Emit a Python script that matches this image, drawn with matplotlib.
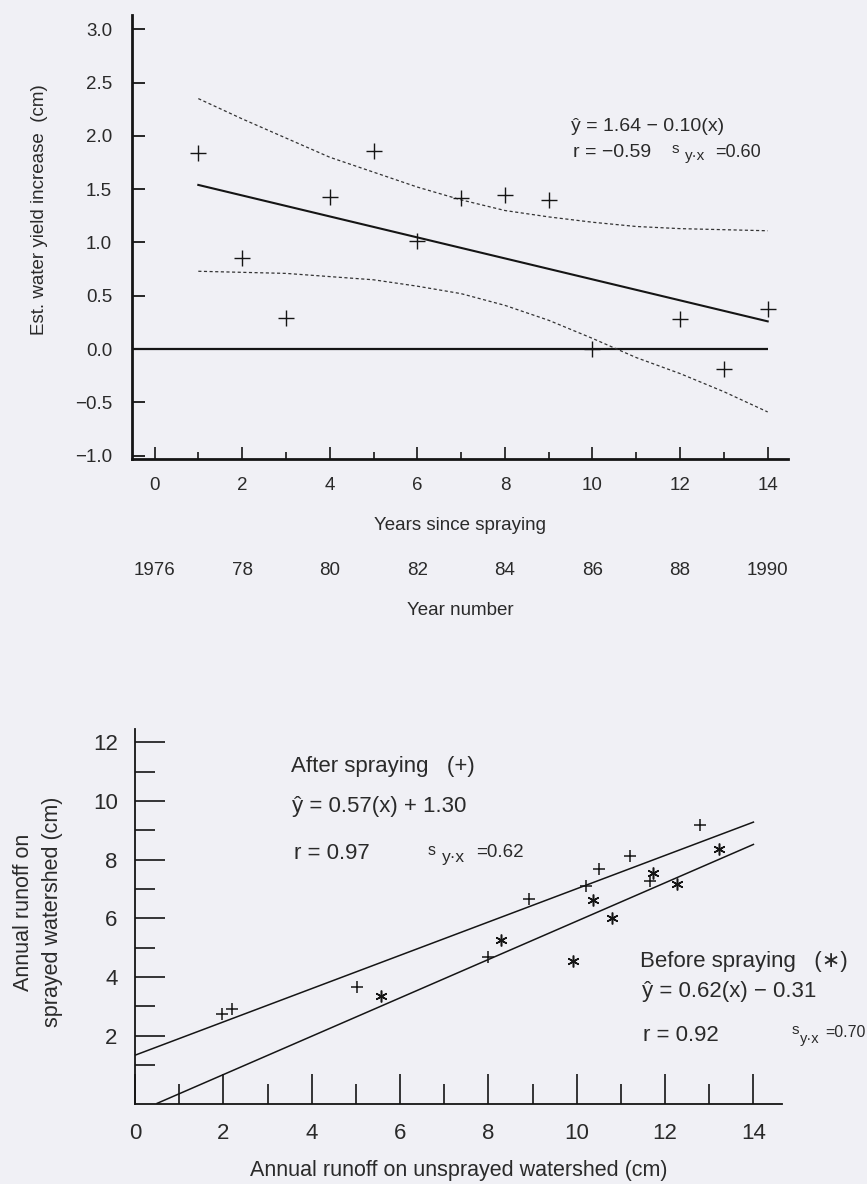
import numpy as np
import matplotlib.pyplot as plt

plt.rcParams['font.family'] = ['Liberation Sans', 'DejaVu Sans']

bg = '#f0f0f5'
ink = '#2a2a2a'
line_c = '#151515'

# --- top panel: water yield increase vs years since spraying ---
years = [1, 2, 3, 4, 5, 6, 7, 8, 9, 10, 12, 13, 14]
increase = [1.84, 0.85, 0.29, 1.43, 1.86, 1.01, 1.42, 1.45, 1.40, 0.0, 0.28, -0.19, 0.38]
fit_x = [1, 14]
fit_y = [1.54, 0.26]
band_x = [1, 2, 3, 4, 5, 6, 7, 8, 9, 10, 11, 12, 13, 14]
band_hi = [2.35, 2.16, 1.98, 1.80, 1.66, 1.52, 1.40, 1.30, 1.24, 1.19, 1.15, 1.13, 1.12, 1.11]
band_lo = [0.73, 0.72, 0.71, 0.68, 0.65, 0.59, 0.52, 0.41, 0.27, 0.10, -0.08, -0.23, -0.40, -0.59]
year_ticks = [0, 2, 4, 6, 8, 10, 12, 14]
year_labels = ['1976', '78', '80', '82', '84', '86', '88', '1990']

# --- bottom panel: sprayed vs unsprayed runoff ---
after_x = [1.98, 2.20, 5.03, 8.00, 8.93, 10.21, 10.51, 11.20, 11.65, 12.79]
after_y = [2.76, 2.90, 3.67, 4.67, 6.67, 7.09, 7.69, 8.12, 7.27, 9.17]
before_x = [5.56, 8.28, 9.92, 10.36, 10.80, 11.72, 12.27, 13.21]
before_y = [3.35, 5.26, 4.54, 6.62, 6.00, 7.56, 7.16, 8.35]
after_fit_x = [0, 14]
after_fit_y = [1.34, 9.28]
before_fit_x = [0.5, 14]
before_fit_y = [-0.30, 8.52]

fig = plt.figure(figsize=(8.67, 11.84), dpi=100, facecolor=bg)

# ---------------- top ----------------
ax1 = fig.add_axes([0.1526, 0.6121, 0.7566, 0.3752])
ax1.set_facecolor(bg)
ax1.set_xlim(-0.507, 14.47)
ax1.set_ylim(-1.034, 3.134)
for s in ['top', 'right']:
    ax1.spines[s].set_visible(False)
for s in ['left', 'bottom']:
    ax1.spines[s].set_linewidth(2.0)
    ax1.spines[s].set_color(line_c)

yt = np.arange(-1.0, 3.01, 0.5)
ax1.set_yticks(yt, labels=[f'{v:.1f}'.replace('-', '\u2212') for v in yt])
ax1.set_xticks(range(0, 15, 2))
ax1.set_xticks(range(1, 15, 2), minor=True)
ax1.tick_params(axis='y', direction='in', length=9, width=1.3, pad=14.5,
                labelsize=13.5, labelcolor=ink, color=line_c)
ax1.tick_params(axis='x', which='major', direction='in', length=9, width=1.2,
                pad=12.5, labelsize=13.5, labelcolor=ink, color=line_c)
ax1.tick_params(axis='x', which='minor', direction='in', length=5, width=1.2,
                color=line_c)

ax1.hlines(0, -0.507, 14, color=line_c, lw=1.6)
ax1.plot(band_x, band_hi, ls=(0, (2.5, 2)), color='#333333', lw=0.9)
ax1.plot(band_x, band_lo, ls=(0, (2.5, 2)), color='#333333', lw=0.9)
ax1.plot(fit_x, fit_y, color=line_c, lw=1.5)
ax1.plot(years, increase, '+', ms=11, mew=1.0, color=line_c)

ax1.text(9.51, 2.05, '\u0177 = 1.64 \u2212 0.10(x)', fontsize=14, color=ink, va='baseline')
ax1.text(9.55, 1.80, 'r = \u22120.59', fontsize=14, color=ink, va='baseline')
ax1.text(11.81, 1.84, 's', fontsize=11, color=ink, va='baseline')
ax1.text(12.11, 1.77, 'y\u00b7x', fontsize=11, color=ink, va='baseline')
ax1.text(12.80, 1.80, '=0.60', fontsize=13, color=ink, va='baseline')

ax1.set_xlabel('Years since spraying', fontsize=13.5, color=ink, labelpad=17)

sec = ax1.secondary_xaxis(-0.231)
sec.set_xticks(year_ticks, labels=year_labels)
sec.tick_params(length=0, pad=0, labelsize=13.5, labelcolor=ink)
sec.spines['bottom'].set_visible(False)
sec.set_xlabel('Year number', fontsize=13.5, color=ink, labelpad=16.5)

fig.text(40 / 867, 1 - 210 / 1184, 'Est. water yield increase  (cm)', rotation=90,
         ha='center', va='center', fontsize=13.5, color=ink)

# ---------------- bottom ----------------
ax2 = fig.add_axes([0.1557, 0.0676, 0.7459, 0.3164])
ax2.set_facecolor(bg)
ax2.set_xlim(0, 14.64)
ax2.set_ylim(-0.32, 12.44)
for s in ['top', 'right']:
    ax2.spines[s].set_visible(False)
for s in ['left', 'bottom']:
    ax2.spines[s].set_linewidth(1.3)
    ax2.spines[s].set_color(line_c)

ax2.set_yticks(range(2, 13, 2))
ax2.set_yticks(range(1, 12, 2), minor=True)
ax2.set_xticks(range(0, 15, 2))
ax2.set_xticks(range(1, 15, 2), minor=True)
ax2.tick_params(axis='both', which='major', direction='in', length=21.5, width=1.2,
                labelsize=16, labelcolor=ink, color=line_c)
ax2.tick_params(axis='both', which='minor', direction='in', length=14.4, width=1.2,
                color=line_c)
ax2.tick_params(axis='y', pad=12.5)
ax2.tick_params(axis='x', pad=14)

ax2.plot(after_fit_x, after_fit_y, color=line_c, lw=1.1)
ax2.plot(before_fit_x, before_fit_y, color=line_c, lw=1.1)
ax2.plot(after_x, after_y, '+', ms=8.5, mew=1.1, color=line_c)
ax2.plot(before_x, before_y, marker=(6, 2, 0), ls='none', ms=8.5, mew=1.1, color=line_c)

ax2.text(3.53, 10.98, 'After spraying   (+)', fontsize=16, color=ink, va='baseline')
ax2.text(3.55, 9.62, '\u0177 = 0.57(x) + 1.30', fontsize=16, color=ink, va='baseline')
ax2.text(3.61, 8.04, 'r = 0.97', fontsize=16, color=ink, va='baseline')
ax2.text(6.62, 8.17, 's', fontsize=11.5, color=ink, va='baseline')
ax2.text(6.95, 7.92, 'y\u00b7x', fontsize=12.5, color=ink, va='baseline')
ax2.text(7.73, 8.09, '=0.62', fontsize=13.5, color=ink, va='baseline')

ax2.text(11.44, 4.33, 'Before spraying   (\u2217)', fontsize=16, color=ink, va='baseline')
ax2.text(11.47, 3.33, '\u0177 = 0.62(x) \u2212 0.31', fontsize=16, color=ink, va='baseline')
ax2.text(11.50, 1.83, 'r = 0.92', fontsize=16, color=ink, va='baseline')
ax2.text(14.86, 2.08, 's', fontsize=11, color=ink, va='baseline')
ax2.text(15.06, 1.74, 'y\u00b7x', fontsize=10.5, color=ink, va='baseline')
ax2.text(15.63, 1.95, '=0.70', fontsize=11.5, color=ink, va='baseline')

ax2.set_xlabel('Annual runoff on unsprayed watershed (cm)', fontsize=15.5, color=ink,
               labelpad=11.5)
fig.text(38 / 867, 1 - 912 / 1184, 'Annual runoff on\nsprayed watershed (cm)', rotation=90,
         ha='center', va='center', fontsize=15.5, color=ink, linespacing=1.5)

fig.savefig('out.png', dpi=100, facecolor=bg)
